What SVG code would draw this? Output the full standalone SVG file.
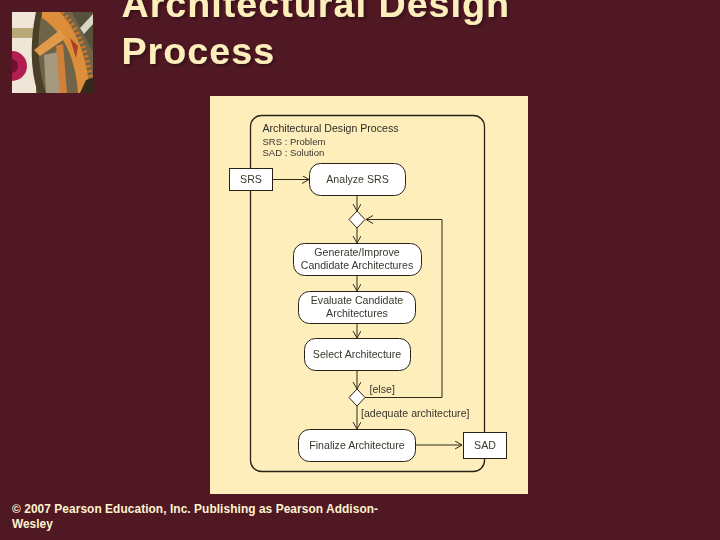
<svg xmlns="http://www.w3.org/2000/svg" width="720" height="540" viewBox="0 0 720 540">
<defs>
<style>
text{font-family:"Liberation Sans",Arial,sans-serif}
.t{font-size:37.6px;font-weight:700;fill:#fdeebb;letter-spacing:1.05px}
.n{fill:#fff;stroke:#2a2418;stroke-width:1}
.l{font-size:10.6px;fill:#3a362e}
.c{text-anchor:middle}
.e{fill:none;stroke:#2f2a1c;stroke-width:1}
.f{font-size:11.9px;font-weight:700;fill:#fdf3d0}
</style>
<marker id="a" markerWidth="10" markerHeight="10" refX="7" refY="4" orient="auto" markerUnits="userSpaceOnUse"><path d="M0 0L7 4L0 8" fill="none" stroke="#2f2a1c"/></marker>
<filter id="b" x="-5%" y="-5%" width="110%" height="110%"><feGaussianBlur stdDeviation="0.35"/></filter>
<filter id="ds" x="-5%" y="-10%" width="110%" height="130%"><feDropShadow dx="2" dy="2" stdDeviation="1" flood-color="#2c0d12" flood-opacity="0.8"/></filter>
<clipPath id="lc"><rect x="12" y="12" width="81" height="81"/></clipPath>
</defs>
<rect width="720" height="540" fill="#501822"/>
<g id="logo" clip-path="url(#lc)">
<rect x="12" y="12" width="81" height="81" fill="#6f6448"/>
<rect x="12" y="12" width="24" height="81" fill="#f0e6d8"/>
<rect x="12" y="28" width="24" height="10" fill="#b9a878"/>
<circle cx="12" cy="66" r="15" fill="#b01f50"/>
<circle cx="11" cy="66" r="7" fill="#701030"/>
<path d="M36 12C30 40 30 70 38 93H46C38 70 36 40 42 12Z" fill="#4a4028"/>
<path d="M44 55L58 52L62 93H46Z" fill="#a59a80"/>
<path d="M72 12H93V52Z" fill="#57503a"/>
<path d="M80 28L93 14V24L84 34Z" fill="#d9d6c8"/>
<path d="M42 12H60C76 28 88 60 90 93H78C76 60 64 32 42 18Z" fill="#dc8e3a"/>
<path d="M62 12C80 30 90 60 92 93" fill="none" stroke="#c9762c" stroke-width="5" stroke-dasharray="2.500 2.500"/>
<path d="M34 50L60 30L66 38L40 56Z" fill="#e09a48"/>
<path d="M56 46L63 44L67 93H60Z" fill="#d0803a"/>
<path d="M70 38L78 46L76 58Z" fill="#a8401f"/>
<path d="M86 80L93 78V93H80Z" fill="#33281c"/>
</g>
<g id="title" filter="url(#ds)">
<text class="t" x="121.500" y="17">Architectural Design</text>
<text class="t" x="121.500" y="64">Process</text>
</g>
<rect x="210" y="96" width="318" height="398" fill="#fdeebb"/>
<g filter="url(#b)">
<g id="frame"><rect x="250.500" y="115.500" width="234" height="356" rx="11" fill="none" stroke="#2a2418" stroke-width="1.300"/>
<text x="262.500" y="132" style="font-size:10.6px" fill="#2e2a24">Architectural Design Process</text>
<text x="262.500" y="144.500" style="font-size:9.5px" fill="#3a362e">SRS : Problem</text>
<text x="262.500" y="155.500" style="font-size:9.5px" fill="#3a362e">SAD : Solution</text></g>
<g id="connectors">
<path class="e" marker-end="url(#a)" d="M272 179.500H309"/>
<path class="e" marker-end="url(#a)" d="M357 195V211"/>
<path class="e" marker-end="url(#a)" d="M357 227V243"/>
<path class="e" marker-end="url(#a)" d="M357 275V291"/>
<path class="e" marker-end="url(#a)" d="M357 323V338"/>
<path class="e" marker-end="url(#a)" d="M357 371V389"/>
<path class="e" marker-end="url(#a)" d="M357 405V429"/>
<path class="e" marker-end="url(#a)" d="M415 445H462"/>
<path class="e" marker-end="url(#a)" d="M365 397.500H442V219.500H366"/>
</g>
<g id="srs"><rect class="n" x="229.500" y="168.500" width="43" height="22"/><text class="l c" x="251" y="183">SRS</text></g>
<g id="analyze"><rect class="n" x="309.500" y="163.500" width="96" height="32" rx="11"/><text class="l c" x="357.500" y="183">Analyze SRS</text></g>
<g id="merge"><path class="n" d="M357 211L365 219.500L357 228L349 219.500Z"/></g>
<g id="generate"><rect class="n" x="293.500" y="243.500" width="128" height="32" rx="11"/><text class="l c" x="357" y="256">Generate/Improve</text><text class="l c" x="357" y="269">Candidate Architectures</text></g>
<g id="evaluate"><rect class="n" x="298.500" y="291.500" width="117" height="32" rx="11"/><text class="l c" x="357" y="304">Evaluate Candidate</text><text class="l c" x="357" y="317">Architectures</text></g>
<g id="select"><rect class="n" x="304.500" y="338.500" width="106" height="32" rx="11"/><text class="l c" x="357" y="358">Select Architecture</text></g>
<g id="decision"><path class="n" d="M357 389L365 397.500L357 406L349 397.500Z"/></g>
<text class="l" x="369.500" y="393">[else]</text>
<text class="l" x="361" y="417" textLength="108.500">[adequate architecture]</text>
<g id="finalize"><rect class="n" x="298.500" y="429.500" width="117" height="32" rx="11"/><text class="l c" x="357" y="449">Finalize Architecture</text></g>
<g id="sad"><rect class="n" x="463.500" y="432.500" width="43" height="26"/><text class="l c" x="485" y="449">SAD</text></g>
</g>
<g id="footer"><text class="f" x="12" y="513" textLength="366">© 2007 Pearson Education, Inc. Publishing as Pearson Addison-</text><text class="f" x="12" y="528">Wesley</text></g>
</svg>
